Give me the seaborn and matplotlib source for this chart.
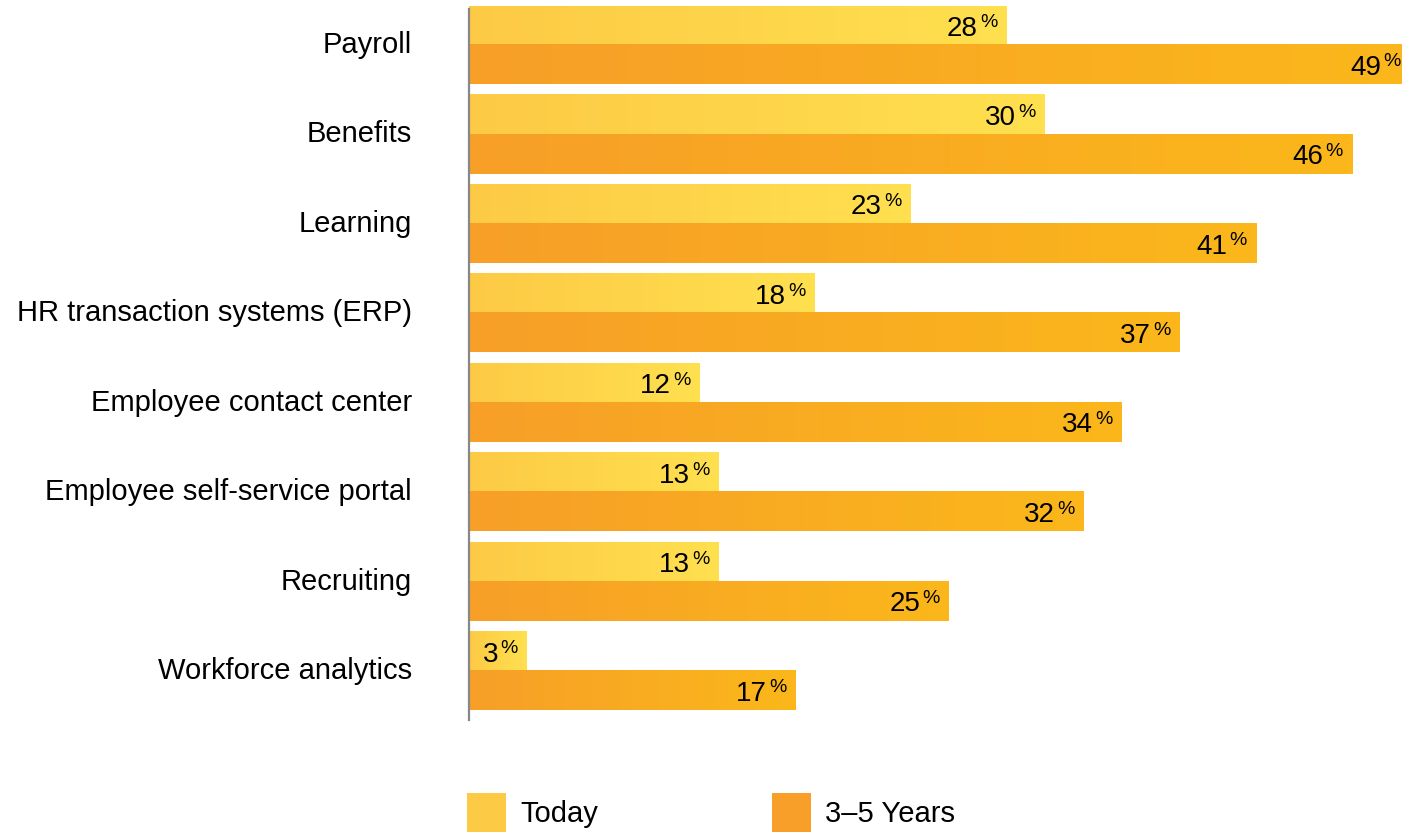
import numpy as np
import pandas as pd
import matplotlib
matplotlib.use("Agg")
import matplotlib.pyplot as plt
import matplotlib.transforms as mtransforms
from matplotlib.colors import LinearSegmentedColormap
from matplotlib.patches import Patch
import seaborn as sns

categories = ["Payroll", "Benefits", "Learning", "HR transaction systems (ERP)",
              "Employee contact center", "Employee self-service portal",
              "Recruiting", "Workforce analytics"]
today = [28, 30, 23, 18, 12, 13, 13, 3]
future = [49, 46, 41, 37, 34, 32, 25, 17]
series = ["Today", "3\u20135 Years"]

# start/end colours of the horizontal gradient on each bar
grad = {
    "Today": ("#FDCA45", "#FFE04F"),
    "3\u20135 Years": ("#F79F28", "#FBB71B"),
}

sns.set_theme(style="white")
plt.rcParams["font.family"] = ["Liberation Sans", "DejaVu Sans"]
plt.rcParams["text.color"] = "black"

df = pd.DataFrame({
    "category": categories * 2,
    "value": today + future,
    "series": [series[0]] * len(categories) + [series[1]] * len(categories),
})

fig = plt.figure(figsize=(14.02, 8.32), dpi=100)
ax = fig.add_axes([469 / 1402, 1 - 720 / 832, 1 - 469 / 1402, (720 - 6) / 832])

sns.barplot(data=df, y="category", x="value", hue="series", orient="h",
            order=categories, hue_order=series, width=0.874,
            palette=[grad[s][0] for s in series], legend=False, ax=ax,
            saturation=1)

XMAX = 48.6
ax.set_xlim(0, XMAX)
ax.set_ylim(7.548, -0.436)

# replace flat fills with left-to-right gradients and add value labels
for s, container in zip(series, ax.containers):
    cmap = LinearSegmentedColormap.from_list(s, grad[s])
    g = np.linspace(0, 1, 256).reshape(1, -1)
    for patch, val in zip(container.patches, container.datavalues):
        x0, y0 = patch.get_x(), patch.get_y()
        w, h = patch.get_width(), patch.get_height()
        patch.set_visible(False)
        ax.imshow(g, cmap=cmap, aspect="auto", extent=(x0, x0 + w, y0 + h, y0),
                  interpolation="bilinear", zorder=2)
        yc = y0 + h / 2
        ax.annotate("%", (x0 + w, yc), xytext=(-6.5, -1.4), textcoords="offset points",
                    ha="right", va="baseline", fontsize=14, color="black", zorder=3,
                    annotation_clip=False)
        ax.annotate(f"{val:g}", (x0 + w, yc), xytext=(-20.6, -7.3), textcoords="offset points",
                    ha="right", va="baseline", fontsize=20, color="black", zorder=3,
                    annotation_clip=False)

ax.set_xlim(0, XMAX)
ax.set_ylim(7.548, -0.436)

for side in ["top", "right", "bottom"]:
    ax.spines[side].set_visible(False)
ax.spines["left"].set_color("#888888")
ax.spines["left"].set_linewidth(1.6)
ax.spines["left"].set_bounds(7.548, -0.40)
ax.spines["left"].set_zorder(4)

ax.set_xticks([])
ax.set_xlabel("")
ax.set_ylabel("")
ax.tick_params(axis="y", length=0, pad=41, labelsize=21, labelcolor="black")
# nudge category names slightly upward
lift = mtransforms.ScaledTranslation(0, 3 / 100, fig.dpi_scale_trans)
for lbl in ax.get_yticklabels():
    lbl.set_transform(lbl.get_transform() + lift)

handles = [Patch(facecolor=grad[s][0], edgecolor="none") for s in series]
leg = fig.legend(handles, series, loc="lower left", bbox_to_anchor=(467 / 1402, 0.0),
                 ncol=2, frameon=False, fontsize=21, handlelength=1.337, handleheight=1.674,
                 handletextpad=0.48, columnspacing=5.96, borderpad=0.0, borderaxespad=0.0)
for t in leg.get_texts():
    t.set_color("black")

fig.savefig("out.png", dpi=100)
